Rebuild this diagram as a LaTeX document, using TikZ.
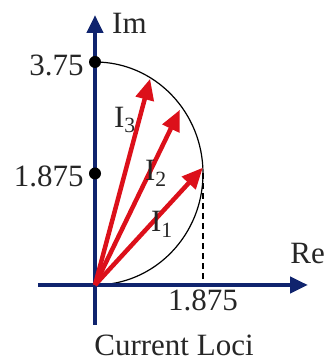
\documentclass[tikz,border=0pt]{standalone}
\usepackage{fontspec}
\setmainfont{Liberation Serif}
\usetikzlibrary{positioning, arrows.meta, calc}
\definecolor{axisblue}{RGB}{16,36,110}
\definecolor{phasorred}{RGB}{220,16,26}
\tikzset{
    axisline/.style={draw=axisblue, line width=4.5pt, -{Triangle[length=18pt, width=16pt]}},
    phasor/.style={draw=phasorred, line width=4.5pt, -{Triangle[length=21pt, width=18pt]}},
    valdot/.style={circle, fill=black, inner sep=0pt, minimum size=12pt},
    locus/.style={draw=black, line width=1.2pt},
    guide/.style={draw=black, line width=1.6pt, dash pattern=on 6pt off 4pt},
    txt/.style={font=\fontsize{31}{36}\selectfont, inner sep=1pt, text=black!85}
}

\begin{document}
\begin{tikzpicture}[x=1pt, y=1pt]
  \useasboundingbox (-95,-78) rectangle (231,285);
  \coordinate (O) at (0,0);
  \coordinate (C) at (0,111.5);
  \coordinate (Top) at (0,223);
  \coordinate (R) at ($(C)+(0:108 and 111.5)$);
  \coordinate (T1) at ($(C)+(3:108 and 111.5)$);
  \coordinate (T2) at ($(C)+(36:105 and 108.5)$);
  \coordinate (T3) at ($(C)+(59:107 and 110.5)$);
  \coordinate (ybot) at (0,-40);
  \coordinate (ytop) at (0,270);
  \coordinate (xleft) at (-57,0);
  \coordinate (xright) at (213,0);
  % locus and guide
  \draw[locus] (Top) arc[start angle=90, end angle=-90, x radius=108, y radius=111.5];
  \draw[guide] (R) -- (R |- O);
  % axes
  \draw[axisline] (ybot) -- (ytop);
  \draw[axisline] (xleft) -- (xright);
  % phasors
  \draw[phasor] (O) -- (T1);
  \draw[phasor] (O) -- (T2);
  \draw[phasor] (O) -- (T3);
  \node(D1)[valdot] at (Top){};
  \node(D2)[valdot] at (C){};
  % labels
  \node(L1)[txt, left=4pt of D1, yshift=-3pt]{3.75};
  \node(L2)[txt, left=4pt of D2, yshift=-3pt]{1.875};
  \node(L3)[txt, anchor=north] at ($(R |- O)+(0,-4)$){1.875};
  \node(Re)[txt, anchor=east] at (231,31){Re};
  \node(Im)[txt, anchor=west] at (16,262){Im};
  \node(I1)[txt] at (67,61){I\textsubscript{1}};
  \node(I2)[txt] at (61,112){I\textsubscript{2}};
  \node(I3)[txt] at (30,165){I\textsubscript{3}};
  \node(cap)[txt] at (79,-60){Current Loci};
\end{tikzpicture}
\end{document}
